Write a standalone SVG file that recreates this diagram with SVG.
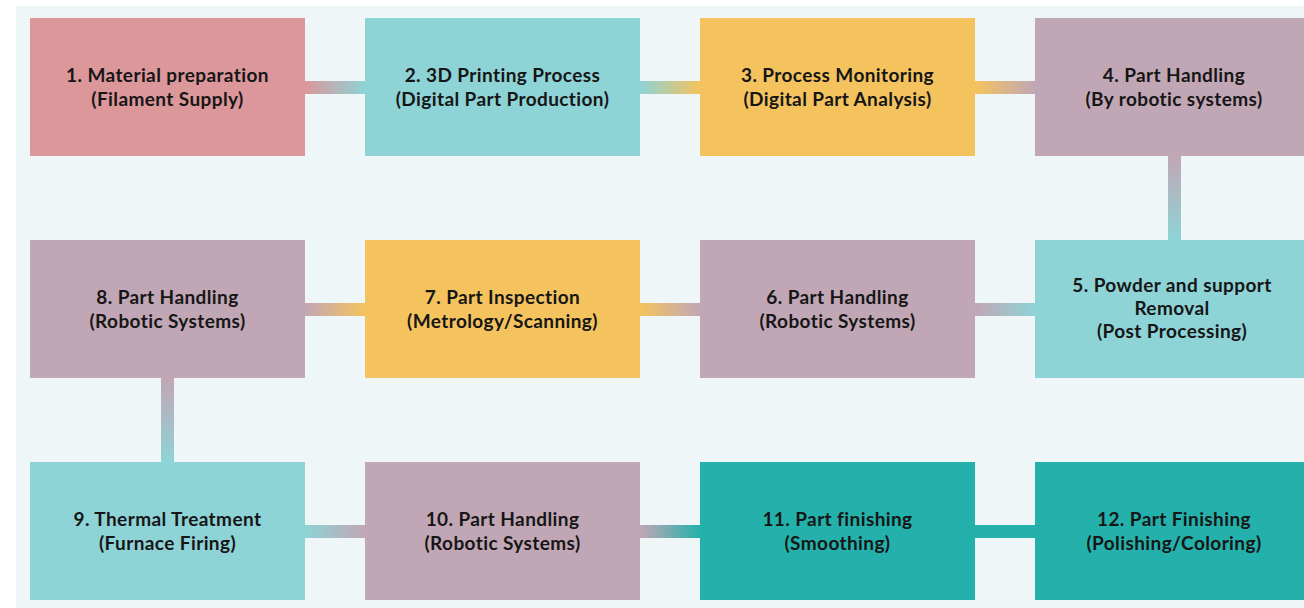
<svg xmlns="http://www.w3.org/2000/svg" width="1304" height="608" viewBox="0 0 1304 608">
  <defs>
    <style>
      .bg { fill: #eef6f8; }
      .pink { fill: #dc979b; }
      .teal { fill: #8ed3d6; }
      .gold { fill: #f4c35e; }
      .mauve { fill: #c1a7b5; }
      .deep { fill: #24b1ab; }
      .label { font-family: Lato, "Open Sans", "Liberation Sans", sans-serif; font-weight: 700; font-size: 19px; letter-spacing: 0.4px; fill: #161616; text-anchor: middle; }
    </style>
    <!-- horizontal blends, left colour to right colour -->
    <linearGradient id="gPinkTeal" x1="0" y1="0" x2="1" y2="0"><stop offset="0" stop-color="#dc979b"/><stop offset="1" stop-color="#8ed3d6"/></linearGradient>
    <linearGradient id="gTealGold" x1="0" y1="0" x2="1" y2="0"><stop offset="0" stop-color="#8ed3d6"/><stop offset="1" stop-color="#f4c35e"/></linearGradient>
    <linearGradient id="gGoldMauve" x1="0" y1="0" x2="1" y2="0"><stop offset="0" stop-color="#f4c35e"/><stop offset="1" stop-color="#c1a7b5"/></linearGradient>
    <linearGradient id="gMauveGold" x1="0" y1="0" x2="1" y2="0"><stop offset="0" stop-color="#c1a7b5"/><stop offset="1" stop-color="#f4c35e"/></linearGradient>
    <linearGradient id="gMauveTeal" x1="0" y1="0" x2="1" y2="0"><stop offset="0" stop-color="#c1a7b5"/><stop offset="1" stop-color="#8ed3d6"/></linearGradient>
    <linearGradient id="gTealMauve" x1="0" y1="0" x2="1" y2="0"><stop offset="0" stop-color="#8ed3d6"/><stop offset="1" stop-color="#c1a7b5"/></linearGradient>
    <linearGradient id="gMauveDeep" x1="0" y1="0" x2="1" y2="0"><stop offset="0" stop-color="#c1a7b5"/><stop offset="1" stop-color="#24b1ab"/></linearGradient>
    <!-- vertical blend, top to bottom -->
    <linearGradient id="gMauveTealV" x1="0" y1="0" x2="0" y2="1"><stop offset="0" stop-color="#c1a7b5"/><stop offset="1" stop-color="#8ed3d6"/></linearGradient>
  </defs>

  <rect class="bg" x="16" y="6" width="1288" height="602"/>

  <g id="connectors">
    <rect x="305" y="81" width="60" height="13" fill="url(#gPinkTeal)"/>
    <rect x="640" y="81" width="60" height="13" fill="url(#gTealGold)"/>
    <rect x="975" y="81" width="60" height="13" fill="url(#gGoldMauve)"/>
    <rect x="1168" y="156" width="13" height="84" fill="url(#gMauveTealV)"/>
    <rect x="975" y="303" width="60" height="13" fill="url(#gMauveTeal)"/>
    <rect x="640" y="303" width="60" height="13" fill="url(#gGoldMauve)"/>
    <rect x="305" y="303" width="60" height="13" fill="url(#gMauveGold)"/>
    <rect x="161" y="378" width="13" height="84" fill="url(#gMauveTealV)"/>
    <rect x="305" y="525" width="60" height="13" fill="url(#gTealMauve)"/>
    <rect x="640" y="525" width="60" height="13" fill="url(#gMauveDeep)"/>
    <rect x="975" y="525" width="60" height="13" fill="#24b1ab"/>
  </g>

  <g id="node1">
    <rect class="pink" x="30" y="18" width="275" height="138"/>
    <text class="label"><tspan x="167.5" y="82">1. Material preparation</tspan><tspan x="167.5" y="106">(Filament Supply)</tspan></text>
  </g>
  <g id="node2">
    <rect class="teal" x="365" y="18" width="275" height="138"/>
    <text class="label"><tspan x="502.5" y="82">2. 3D Printing Process</tspan><tspan x="502.5" y="106">(Digital Part Production)</tspan></text>
  </g>
  <g id="node3">
    <rect class="gold" x="700" y="18" width="275" height="138"/>
    <text class="label"><tspan x="837.5" y="82">3. Process Monitoring</tspan><tspan x="837.5" y="106">(Digital Part Analysis)</tspan></text>
  </g>
  <g id="node4">
    <rect class="mauve" x="1035" y="18" width="280" height="138"/>
    <text class="label"><tspan x="1174" y="82">4. Part Handling</tspan><tspan x="1174" y="106">(By robotic systems)</tspan></text>
  </g>

  <g id="node5">
    <rect class="teal" x="1035" y="240" width="280" height="138"/>
    <text class="label"><tspan x="1172" y="292">5. Powder and support</tspan><tspan x="1172" y="315">Removal</tspan><tspan x="1172" y="338">(Post Processing)</tspan></text>
  </g>
  <g id="node6">
    <rect class="mauve" x="700" y="240" width="275" height="138"/>
    <text class="label"><tspan x="837.5" y="304">6. Part Handling</tspan><tspan x="837.5" y="328">(Robotic Systems)</tspan></text>
  </g>
  <g id="node7">
    <rect class="gold" x="365" y="240" width="275" height="138"/>
    <text class="label"><tspan x="502.5" y="304">7. Part Inspection</tspan><tspan x="502.5" y="328">(Metrology/Scanning)</tspan></text>
  </g>
  <g id="node8">
    <rect class="mauve" x="30" y="240" width="275" height="138"/>
    <text class="label"><tspan x="167.5" y="304">8. Part Handling</tspan><tspan x="167.5" y="328">(Robotic Systems)</tspan></text>
  </g>

  <g id="node9">
    <rect class="teal" x="30" y="462" width="275" height="138"/>
    <text class="label"><tspan x="167.5" y="526">9. Thermal Treatment</tspan><tspan x="167.5" y="550">(Furnace Firing)</tspan></text>
  </g>
  <g id="node10">
    <rect class="mauve" x="365" y="462" width="275" height="138"/>
    <text class="label"><tspan x="502.5" y="526">10. Part Handling</tspan><tspan x="502.5" y="550">(Robotic Systems)</tspan></text>
  </g>
  <g id="node11">
    <rect class="deep" x="700" y="462" width="275" height="138"/>
    <text class="label"><tspan x="837.5" y="526">11. Part finishing</tspan><tspan x="837.5" y="550">(Smoothing)</tspan></text>
  </g>
  <g id="node12">
    <rect class="deep" x="1035" y="462" width="280" height="138"/>
    <text class="label"><tspan x="1174" y="526">12. Part Finishing</tspan><tspan x="1174" y="550">(Polishing/Coloring)</tspan></text>
  </g>
</svg>
